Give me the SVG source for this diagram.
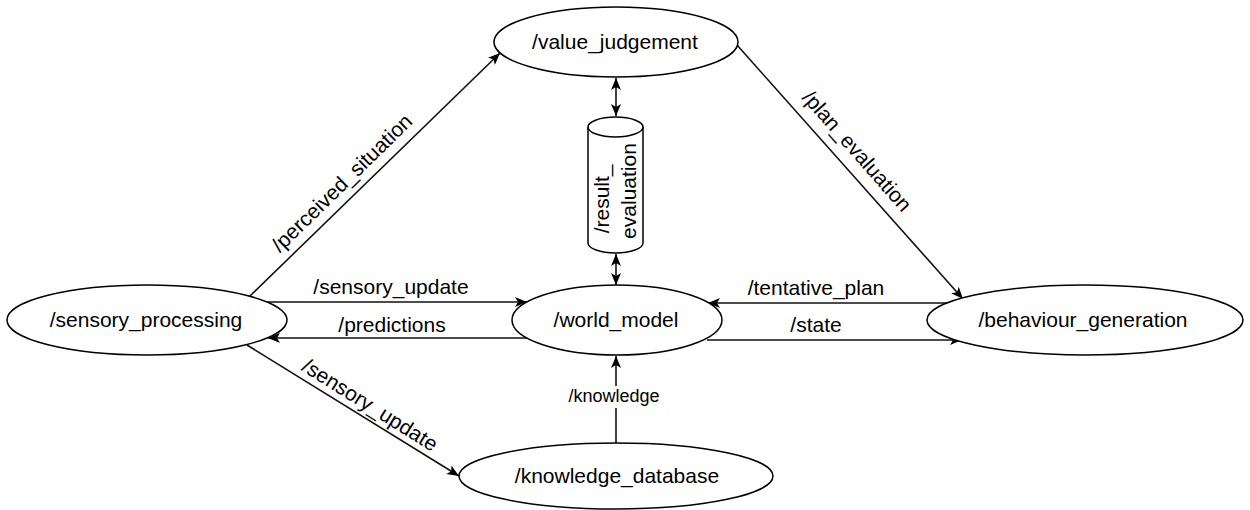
<svg xmlns="http://www.w3.org/2000/svg" width="1250" height="510" viewBox="0 0 1250 510">
  <style>
    .node { fill: #ffffff; stroke: #000000; stroke-width: 1.5; }
    .lbl { font-family: "Liberation Sans", Arial, sans-serif; font-size: 21px; fill: #000000; text-anchor: middle; }
    .elbl { font-family: "Liberation Sans", Arial, sans-serif; font-size: 21px; fill: #000000; text-anchor: middle; }
    .small { font-family: "Liberation Sans", Arial, sans-serif; font-size: 18px; fill: #000000; text-anchor: middle; }
    .edge { fill: none; stroke: #111111; stroke-width: 1.6; }
  </style>
  <defs>
    <marker id="arrow" viewBox="0 0 12 10" refX="12" refY="5" markerWidth="12" markerHeight="10" markerUnits="userSpaceOnUse" orient="auto-start-reverse">
      <path d="M0,0 L12,5 L0,10 L3,5 z" fill="#000000"/>
    </marker>
  </defs>
  <rect width="1250" height="510" fill="#ffffff"/>

  <!-- connectors -->
  <g id="connectors">
    <path class="edge" d="M250,296 L500,53" marker-end="url(#arrow)"/>
    <path class="edge" d="M737,45 L963,299" marker-end="url(#arrow)"/>
    <path class="edge" d="M267,302 L527,302" marker-end="url(#arrow)"/>
    <path class="edge" d="M527,338 L268,338" marker-end="url(#arrow)"/>
    <path class="edge" d="M962,303 L708,303" marker-end="url(#arrow)"/>
    <path class="edge" d="M707,340 L962,340" marker-end="url(#arrow)"/>
    <path class="edge" d="M247,345 L459,476" marker-end="url(#arrow)"/>
    <path class="edge" d="M616,443 L616,356" marker-end="url(#arrow)"/>
    <path class="edge" d="M616,78 L616,116" marker-start="url(#arrow)" marker-end="url(#arrow)"/>
    <path class="edge" d="M616,254 L616,285" marker-start="url(#arrow)" marker-end="url(#arrow)"/>

    <!-- edge labels -->
    <text class="elbl" transform="translate(342,183) rotate(-44.3)" y="7">/perceived_situation</text>
    <text class="elbl" transform="translate(857,151) rotate(48.7)" y="7">/plan_evaluation</text>
    <text class="elbl" transform="translate(370,405) rotate(32)" y="7">/sensory_update</text>
    <text class="elbl" x="391" y="294">/sensory_update</text>
    <text class="elbl" x="392" y="332">/predictions</text>
    <text class="elbl" x="816" y="295">/tentative_plan</text>
    <text class="elbl" x="816" y="332">/state</text>
    <rect x="563" y="386" width="106" height="22" fill="#ffffff"/>
    <text class="small" x="614" y="402">/knowledge</text>
  </g>

  <!-- nodes -->
  <g id="value_judgement">
    <ellipse class="node" cx="616" cy="42" rx="122" ry="35"/>
    <text class="lbl" x="615" y="49">/value_judgement</text>
  </g>
  <g id="result_evaluation">
    <path class="node" d="M588,127 a27.5,10 0 0 1 55,0 v116 a27.5,10 0 0 1 -55,0 z"/>
    <path class="node" fill="none" d="M588,127 a27.5,10 0 0 0 55,0"/>
    <text class="lbl" transform="translate(616,191) rotate(-90)">
      <tspan x="-5" y="-7">/result_</tspan>
      <tspan x="0" y="20">evaluation</tspan>
    </text>
  </g>
  <g id="sensory_processing">
    <ellipse class="node" cx="147" cy="320" rx="140" ry="35"/>
    <text class="lbl" x="146" y="327">/sensory_processing</text>
  </g>
  <g id="world_model">
    <ellipse class="node" cx="617" cy="320" rx="105" ry="35"/>
    <text class="lbl" x="616" y="327">/world_model</text>
  </g>
  <g id="behaviour_generation">
    <ellipse class="node" cx="1085" cy="320" rx="158" ry="35"/>
    <text class="lbl" x="1083" y="327">/behaviour_generation</text>
  </g>
  <g id="knowledge_database">
    <ellipse class="node" cx="616" cy="476" rx="157" ry="33"/>
    <text class="lbl" x="617" y="483">/knowledge_database</text>
  </g>
</svg>
